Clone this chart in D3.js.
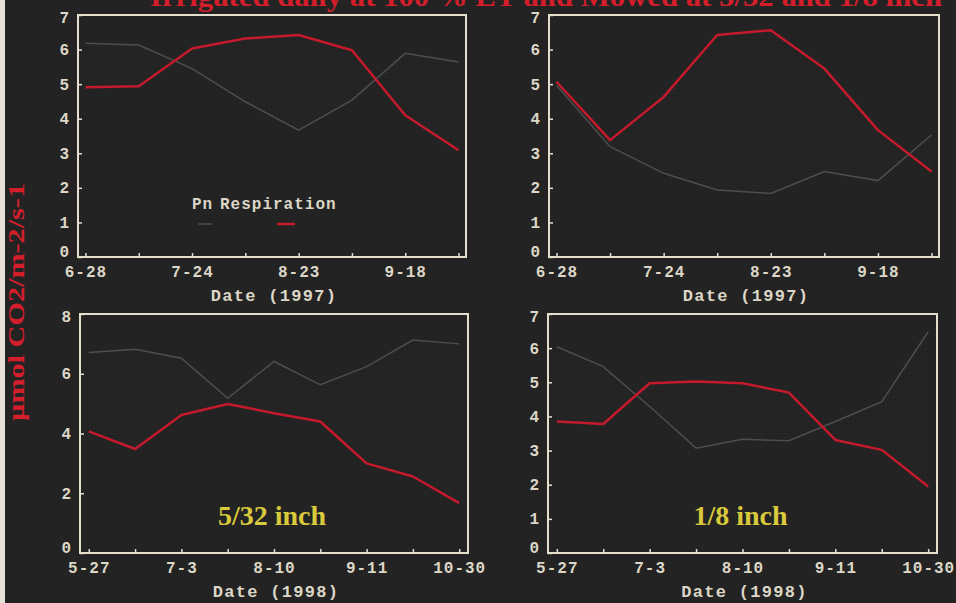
<!DOCTYPE html>
<html>
<head>
<meta charset="utf-8">
<script src="https://d3js.org/d3.v7.min.js"></script>
<style>
  html, body { margin: 0; padding: 0; background: #232323; }
  svg { display: block; }
  .tick-label { font-family: "Liberation Mono", "DejaVu Sans Mono", monospace; font-size: 16px; font-weight: bold; fill: #dcd7c6; letter-spacing: 1px; }
  .axis-title { font-family: "Liberation Mono", "DejaVu Sans Mono", monospace; font-size: 17px; font-weight: bold; fill: #dcd7c6; letter-spacing: 1.3px; }
</style>
</head>
<body>
<svg width="956" height="603"></svg>
<script>
// --- data ---
var labels1997 = ["6-28", "", "7-24", "", "8-23", "", "9-18", ""];
var labels1998 = ["5-27", "", "7-3", "", "8-10", "", "9-11", "", "10-30"];

var pnA   = [6.18, 6.13, 5.45, 4.49, 3.67, 4.54, 5.89, 5.64];
var respA = [4.91, 4.94, 6.03, 6.32, 6.42, 5.98, 4.10, 3.09];

var pnB   = [4.97, 3.19, 2.42, 1.94, 1.84, 2.47, 2.21, 3.53];
var respB = [5.07, 3.38, 4.63, 6.42, 6.56, 5.45, 3.67, 2.47];

var pnC   = [6.71, 6.82, 6.52, 5.18, 6.41, 5.63, 6.24, 7.13, 7.00];
var respC = [4.07, 3.48, 4.62, 4.99, 4.68, 4.40, 3.00, 2.56, 1.67];

var pnD   = [6.04, 5.46, 4.29, 3.07, 3.33, 3.29, 3.85, 4.43, 6.48];
var respD = [3.85, 3.78, 4.97, 5.02, 4.97, 4.70, 3.31, 3.02, 1.95];

var yTicks7 = [0, 1, 2, 3, 4, 5, 6, 7];
var yTicks8 = [0, 2, 4, 6, 8];

var titleText = "Irrigated daily at 100 % ET and Mowed at 5/32 and 1/8 inch";
var yTitle = "\u00b5mol CO2/m-2/s-1";

var panels = [
  {x0: 78,  x1: 466, y0: 15,  y1: 257, labels: labels1997, pn: pnA, resp: respA, ymax: 7, yticks: yTicks7, xtitle: "Date (1997)", legend: true},
  {x0: 549, x1: 939, y0: 15,  y1: 257, labels: labels1997, pn: pnB, resp: respB, ymax: 7, yticks: yTicks7, xtitle: "Date (1997)"},
  {x0: 80,  x1: 468, y0: 314, y1: 553, labels: labels1998, pn: pnC, resp: respC, ymax: 8, yticks: yTicks8, xtitle: "Date (1998)", note: "5/32 inch"},
  {x0: 548, x1: 937, y0: 314, y1: 553, labels: labels1998, pn: pnD, resp: respD, ymax: 7, yticks: yTicks7, xtitle: "Date (1998)", note: "1/8 inch"}
];

var boxColor = "#e4dfcc";
var pnColor = "#4e4e4e";
var respColor = "#c41a2c";

var svg = d3.select("svg");

// light strip on the left edge
svg.append("rect").attr("x", 0).attr("y", 0).attr("width", 5).attr("height", 603).attr("fill", "#e6e2d6");

// faint stipple between the curves
var defs = svg.append("defs");
var pat = defs.append("pattern").attr("id", "dots").attr("width", 4).attr("height", 4).attr("patternUnits", "userSpaceOnUse");
pat.append("rect").attr("x", 1).attr("y", 1).attr("width", 1).attr("height", 1).attr("fill", "#2f2f2f");

panels.forEach(function(p) {
  var idx = d3.range(p.labels.length);
  var x = d3.scalePoint().domain(idx).range([p.x0, p.x1]).padding(p.labels.length == 8 ? 0.14 : 0.19);
  var y = d3.scaleLinear().domain([0, p.ymax]).range([p.y1, p.y0]);
  var g = svg.append("g");

  // stipple area
  g.append("path")
    .datum(idx)
    .attr("fill", "url(#dots)")
    .attr("d", d3.area().x(function(i) { return x(i); }).y0(function(i) { return y(p.pn[i]); }).y1(function(i) { return y(p.resp[i]); }));

  // y axis ticks, inward
  var yAxis = d3.axisLeft(y).tickValues(p.yticks).tickSize(-4).tickPadding(8).tickFormat(d3.format("d"));
  var ya = g.append("g").attr("transform", "translate(" + p.x0 + ",0)").call(yAxis);
  ya.select(".domain").remove();
  ya.selectAll("line").attr("stroke", boxColor).attr("stroke-width", 1.5);
  ya.selectAll("text").attr("class", "tick-label").attr("fill", null)
    .attr("dy", function(d) { return d == 0 ? "-0.05em" : (d == p.ymax ? "0.45em" : "0.32em"); })
    .attr("font-size", function(d) { return d == 0 ? 15 : null; });

  // x axis ticks, inward
  var xAxis = d3.axisBottom(x).tickSize(-4).tickPadding(6).tickFormat(function(i) { return p.labels[i]; });
  var xa = g.append("g").attr("transform", "translate(0," + p.y1 + ")").call(xAxis);
  xa.select(".domain").remove();
  xa.selectAll("line").attr("stroke", boxColor).attr("stroke-width", 1.5);
  xa.selectAll("text").attr("class", "tick-label").attr("fill", null).attr("dy", "0.9em");

  // plot box
  g.append("rect")
    .attr("x", p.x0).attr("y", p.y0)
    .attr("width", p.x1 - p.x0).attr("height", p.y1 - p.y0)
    .attr("fill", "none").attr("stroke", boxColor).attr("stroke-width", 2);

  var line = function(vals) {
    return d3.line().x(function(i) { return x(i); }).y(function(i) { return y(vals[i]); })(idx);
  };
  g.append("path").attr("d", line(p.pn)).attr("fill", "none").attr("stroke", pnColor).attr("stroke-width", 1.5);
  g.append("path").attr("d", line(p.resp)).attr("fill", "none").attr("stroke", respColor).attr("stroke-width", 2.5).attr("stroke-linejoin", "round");

  // x title
  g.append("text").attr("class", "axis-title")
    .attr("x", (p.x0 + p.x1) / 2 + 2).attr("y", p.y1 + 44)
    .attr("text-anchor", "middle").text(p.xtitle);

  if (p.note) {
    g.append("text")
      .attr("x", (p.x0 + p.x1) / 2 - 2).attr("y", p.y1 - 28)
      .attr("text-anchor", "middle")
      .attr("font-family", "Liberation Serif, Times New Roman, serif")
      .attr("font-weight", "bold").attr("font-size", 28)
      .attr("fill", "#d9c93c")
      .text(p.note);
  }

  if (p.legend) {
    g.append("text").attr("class", "tick-label")
      .attr("x", 192).attr("y", 209).text("Pn");
    g.append("text").attr("class", "tick-label")
      .attr("x", 220).attr("y", 209).text("Respiration");
    g.append("line").attr("x1", 198).attr("x2", 212).attr("y1", 224).attr("y2", 224)
      .attr("stroke", pnColor).attr("stroke-width", 1.5);
    g.append("line").attr("x1", 277).attr("x2", 295).attr("y1", 224).attr("y2", 224)
      .attr("stroke", respColor).attr("stroke-width", 2.5);
  }
});

// main title (clipped by the top edge in the original)
svg.append("text")
  .attr("x", 150).attr("y", 6)
  .attr("font-family", "Liberation Serif, Times New Roman, serif")
  .attr("font-weight", "bold").attr("font-size", 27)
  .attr("fill", "#d41e2c")
  .attr("textLength", 792).attr("lengthAdjust", "spacingAndGlyphs")
  .text(titleText);

// y title
svg.append("text")
  .attr("transform", "translate(24,302) rotate(-90)")
  .attr("text-anchor", "middle")
  .attr("font-family", "Liberation Serif, Times New Roman, serif")
  .attr("font-weight", "bold").attr("font-size", 24)
  .attr("fill", "#d41e2c")
  .attr("textLength", 238).attr("lengthAdjust", "spacingAndGlyphs")
  .text(yTitle);
</script>
</body>
</html>
